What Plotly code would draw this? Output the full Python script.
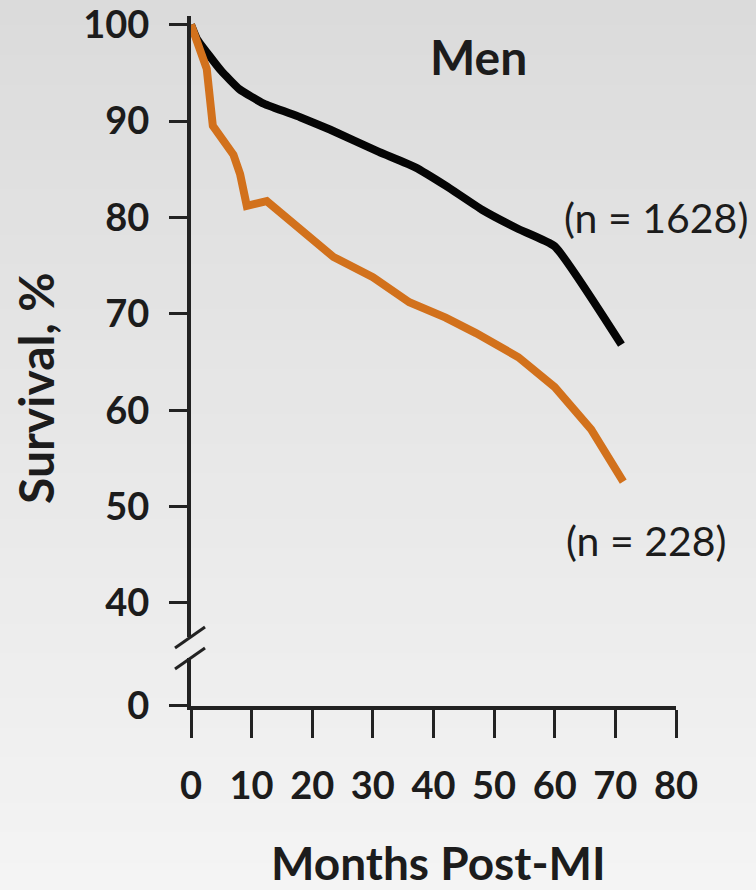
import plotly.graph_objects as go

# ---- data ----
months_a = [0, 1, 3, 5, 8, 12, 18, 23, 31, 37, 42, 48, 54, 60, 71]
surv_a = [100, 98.5, 96.8, 95.2, 93.3, 91.8, 90.4, 89.1, 86.8, 85.2, 83.3, 80.8, 78.8, 77.0, 66.8]

months_b = [0, 1.5, 2.6, 3.6, 7, 8.1, 9.2, 12.5, 18, 23.5, 30, 36, 42, 47, 54, 60, 66, 71.3]
surv_b = [100, 97.5, 95.4, 89.5, 86.5, 84.5, 81.2, 81.7, 78.7, 75.9, 73.8, 71.2, 69.6, 68.0, 65.5, 62.4, 58.0, 52.6]

label_a = "(n = 1628)"
label_b = "(n = 228)"
x_ticks = [0, 10, 20, 30, 40, 50, 60, 70, 80]
y_ticks_upper = [40, 50, 60, 70, 80, 90, 100]
y_ticks_lower = [0]

TXT = "#1c1c1c"
AX = "#222222"
FONT = "Lato"

fig = go.Figure()
fig.add_trace(go.Scatter(x=months_a, y=surv_a, mode="lines",
                         line=dict(color="#050505", width=8, shape="spline", smoothing=0.4),
                         xaxis="x", yaxis="y", hoverinfo="skip"))
fig.add_trace(go.Scatter(x=months_b, y=surv_b, mode="lines",
                         line=dict(color="#D2711C", width=8),
                         xaxis="x", yaxis="y", hoverinfo="skip"))
# empty trace so that the lower (broken-axis) subplot exists
fig.add_trace(go.Scatter(x=[None], y=[None], mode="lines", xaxis="x", yaxis="y2",
                         hoverinfo="skip"))

# background gradient bands
shapes = []
n = 60
for i in range(n):
    t = i / (n - 1)
    c = int(round(219 + (244 - 219) * t))
    y1 = 1.03 - i * (1.03 + 0.27) / n
    y0 = y1 - (1.03 + 0.27) / n - 0.002
    shapes.append(dict(type="rect", xref="paper", yref="paper",
                       x0=-0.45, x1=1.2, y0=y0, y1=y1,
                       fillcolor=f"rgb({c},{c},{c})", line=dict(width=0), layer="below"))

# axis break slashes
def px_x(p):
    return (p - 191) / 485.0

def px_y(p):
    return (706 - p) / 690.0

for (x0, y0, x1, y1) in [(175, 648, 205, 627), (175, 669, 205, 648)]:
    shapes.append(dict(type="line", xref="paper", yref="paper",
                       x0=px_x(x0), y0=px_y(y0), x1=px_x(x1), y1=px_y(y1),
                       line=dict(color=AX, width=3)))

tickfont = dict(family=FONT, size=38, color=TXT, weight="bold")
fig.update_layout(
    width=756, height=890,
    margin=dict(l=191, r=80, t=16, b=184, autoexpand=False),
    paper_bgcolor="rgb(232,232,232)",
    plot_bgcolor="rgba(0,0,0,0)",
    showlegend=False,
    shapes=shapes,
    font=dict(family=FONT, color=TXT),
    xaxis=dict(range=[0, 80], anchor="y2", tickvals=x_ticks, automargin=False,
               showline=True, linecolor=AX, linewidth=4,
               ticks="outside", ticklen=28, tickwidth=3, tickcolor=AX,
               showgrid=False, zeroline=False, ticklabelstandoff=15,
               ticklabeloverflow="allow", tickfont=tickfont),
    yaxis=dict(domain=[0.1004, 1.0], range=[36.5, 100.9], anchor="x", automargin=False,
               tickvals=y_ticks_upper,
               showline=True, linecolor=AX, linewidth=4,
               ticks="outside", ticklen=18, tickwidth=3, tickcolor=AX,
               showgrid=False, zeroline=False, ticklabelstandoff=12,
               ticklabeloverflow="allow", tickfont=tickfont),
    yaxis2=dict(domain=[0.0, 0.0696], range=[0, 5], anchor="x", automargin=False,
                tickvals=y_ticks_lower, ticktext=["0"],
                showline=True, linecolor=AX, linewidth=4,
                ticks="outside", ticklen=18, tickwidth=3, tickcolor=AX,
                showgrid=False, zeroline=False, ticklabelstandoff=12,
                ticklabeloverflow="allow", tickfont=tickfont),
    annotations=[
        dict(text="Men", xref="paper", yref="paper", x=px_x(478), y=px_y(56),
             showarrow=False, xanchor="center", yanchor="middle",
             font=dict(family=FONT, size=48, color=TXT, weight="bold")),
        dict(text=label_a, xref="paper", yref="paper", x=px_x(656), y=px_y(217),
             showarrow=False, xanchor="center", yanchor="middle",
             font=dict(family=FONT, size=41, color=TXT)),
        dict(text=label_b, xref="paper", yref="paper", x=px_x(646), y=px_y(540),
             showarrow=False, xanchor="center", yanchor="middle",
             font=dict(family=FONT, size=41, color=TXT)),
        dict(text="Survival, %", xref="paper", yref="paper", x=px_x(35), y=px_y(388),
             showarrow=False, xanchor="center", yanchor="middle", textangle=-90,
             font=dict(family=FONT, size=48, color=TXT, weight="bold")),
        dict(text="Months Post-MI", xref="paper", yref="paper", x=px_x(438), y=px_y(862),
             showarrow=False, xanchor="center", yanchor="middle",
             font=dict(family=FONT, size=46, color=TXT, weight="bold")),
    ],
)

fig.write_html("out.html", config={"displayModeBar": False},
               post_script="document.body.style.margin='0';document.body.style.overflow='hidden';")
